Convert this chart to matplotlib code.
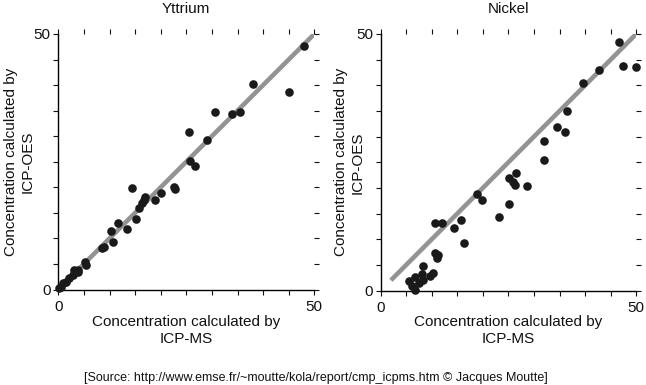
import matplotlib
matplotlib.use("Agg")
import matplotlib.pyplot as plt

plt.rcParams['font.family'] = ['Liberation Sans', 'DejaVu Sans']

# Yttrium data (ICP-MS, ICP-OES)
y_ms = [48.0, 38.1, 45.0, 30.7, 34.0, 35.5, 25.6, 29.1, 25.7, 26.7, 14.3, 22.5, 22.8,
        20.1, 16.9, 16.8, 16.4, 18.8, 15.8, 15.1, 11.7, 13.4, 10.3, 10.6, 8.5, 8.9,
        5.2, 5.4, 3.1, 3.8, 3.9, 2.9, 2.0, 1.6, 1.0, 0.5, 0.2]
y_oes = [47.6, 40.2, 38.6, 34.8, 34.3, 34.8, 30.9, 29.3, 25.2, 24.2, 19.9, 20.0, 19.7,
         18.9, 18.1, 17.5, 17.0, 17.5, 16.0, 13.8, 13.1, 11.8, 11.4, 9.3, 8.2, 8.4,
         5.4, 4.8, 3.8, 3.9, 3.4, 2.9, 2.2, 1.5, 1.2, 0.5, 0.2]

# Nickel data
n_ms = [46.7, 47.5, 50.0, 42.8, 39.6, 36.4, 34.5, 36.0, 32.0, 32.0, 26.4, 25.1, 25.8,
        26.2, 28.7, 18.8, 19.8, 25.1, 23.1, 15.7, 10.6, 11.9, 14.4, 16.3, 10.6, 11.3,
        11.0, 8.3, 10.3, 9.7, 8.0, 8.3, 6.7, 5.6, 7.4, 6.1, 6.7]
n_oes = [48.4, 43.8, 43.5, 42.9, 40.5, 34.9, 31.9, 30.8, 29.2, 25.4, 22.9, 21.9, 21.2,
         20.5, 20.3, 18.8, 17.7, 16.8, 14.4, 13.8, 13.1, 13.1, 12.2, 9.2, 7.3, 7.0,
         6.3, 4.8, 3.4, 2.9, 3.3, 2.1, 2.6, 1.8, 1.4, 0.8, 0.1]

titles = ["Yttrium", "Nickel"]
lines = [([0, 50], [0, 50]), ([2, 50], [2, 50])]
ticks = list(range(0, 51, 5))
xlabel = "Concentration calculated by\nICP-MS"
ylabel = "Concentration calculated by\nICP-OES"
source = "[Source: http://www.emse.fr/~moutte/kola/report/cmp_icpms.htm \u00a9 Jacques Moutte]"

W, H = 646, 385
fig = plt.figure(figsize=(W / 100, H / 100), dpi=100)

axes_px = [(58.3, 34, 256, 255.5), (380.7, 34, 255.5, 256.5)]
datasets = [(y_ms, y_oes), (n_ms, n_oes)]
ylabel_x = [19, 349]

for i, ((px, py, pw, ph), (xs, ys)) in enumerate(zip(axes_px, datasets)):
    ax = fig.add_axes([px / W, 1 - (py + ph) / H, pw / W, ph / H])
    ax.plot(lines[i][0], lines[i][1], color='#939393', lw=3.3, solid_capstyle='butt', zorder=2)
    ax.plot(xs, ys, 'o', color='#1a1a1a', ms=6.2, mec='none', zorder=3, clip_on=False)
    ax.set_xlim(0, 50)
    ax.set_ylim(0, 50)
    ax.spines['top'].set_visible(False)
    ax.spines['right'].set_visible(False)
    ax.spines['left'].set_linewidth(1.0)
    ax.spines['bottom'].set_linewidth(1.0)
    ax.set_xticks(ticks)
    ax.set_yticks(ticks)
    ax.set_xticklabels(['0'] + [''] * 9 + ['50'])
    ax.set_yticklabels(['0'] + [''] * 9 + ['50'])
    ax.tick_params(direction='out', length=3.5, width=0.8, color='#111111',
                   top=True, right=True, labelsize=11, labelcolor='#111111')
    ax.tick_params(axis='x', pad=4)
    ax.tick_params(axis='y', pad=2)
    ax.set_title(titles[i], fontsize=11, pad=15, color='#111111')
    cx = (px + pw / 2) / W
    fig.text(cx, 1 - 315 / H, xlabel, ha='center', va='top', fontsize=11,
             linespacing=1.25, color='#111111')
    fig.text(ylabel_x[i] / W, 1 - (py + ph / 2) / H, ylabel, ha='center', va='center',
             rotation=90, fontsize=11, linespacing=1.25, color='#111111')

fig.text(316 / W, 1 - 378.5 / H, source, ha='center', va='center', fontsize=9, color='#111111')

fig.savefig('out.png', dpi=100)
